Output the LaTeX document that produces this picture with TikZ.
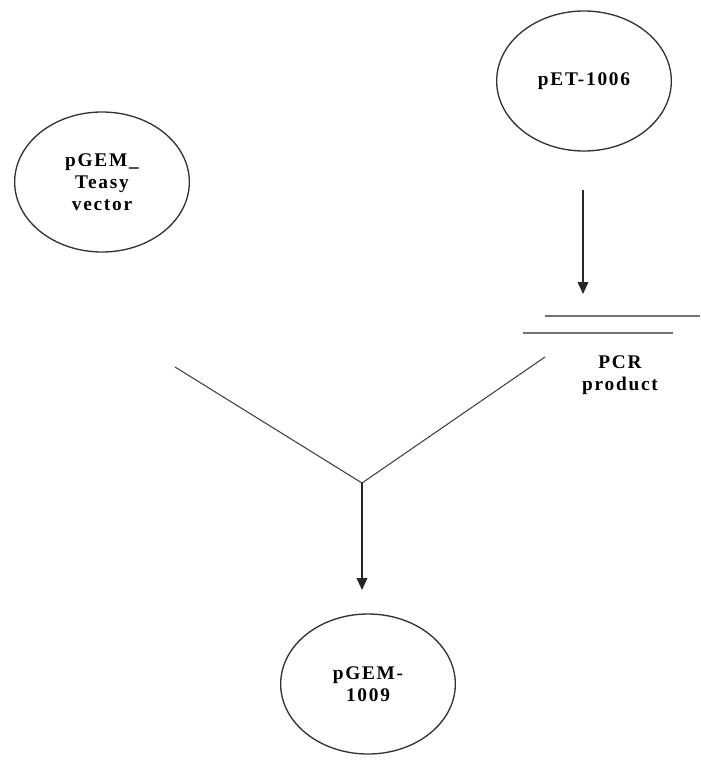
\documentclass[tikz,border=0pt]{standalone}
\usepackage{fontspec}
\setmainfont{Liberation Serif}
\newfontfamily\labelfont[LetterSpace=9]{Liberation Serif}
\usetikzlibrary{shapes.geometric}
\usetikzlibrary{arrows.meta}
\tikzset{plasmid/.style={ellipse, draw=black!80, line width=1pt, minimum width=131pt, minimum height=105pt, align=center, font=\labelfont\fontsize{14.5}{16.5}\selectfont\bfseries}}
\tikzset{flow/.style={-{Triangle[width=8pt,length=9pt]}, line width=1.1pt, black!85}}
\tikzset{strand/.style={line width=2pt, black!55}}

\begin{document}
\begin{tikzpicture}[x=0.75pt,y=-0.75pt]
\useasboundingbox (0,0) rectangle (700,760);
\node[plasmid] (pet) at (584,81) {pET-1006};
\node[plasmid] (teasy) at (102,182) {pGEM\_\\ Teasy\\vector};
\node[plasmid] (final) at (368,684) {pGEM-\\1009};
\coordinate (petout) at (583,190);
\coordinate (pcrtop) at (583,294);
\draw[flow] (petout) -- (pcrtop);
\coordinate (sa) at (545,316);
\coordinate (sb) at (700,316);
\coordinate (sc) at (523,333);
\coordinate (sd) at (673,333);
\draw[strand] (sa) -- (sb);
\draw[strand] (sc) -- (sd);
\node[align=center, font=\labelfont\fontsize{14.5}{16.5}\selectfont\bfseries] (pcr) at (620,375) {PCR\\product};
\coordinate (vl) at (175,367);
\coordinate (vr) at (545,357);
\coordinate (join) at (362,483);
\draw[line width=0.8pt, black!75] (vl) -- (join) -- (vr);
\coordinate (ligtop) at (362,590);
\draw[flow] (join) -- (ligtop);
\end{tikzpicture}
\end{document}
